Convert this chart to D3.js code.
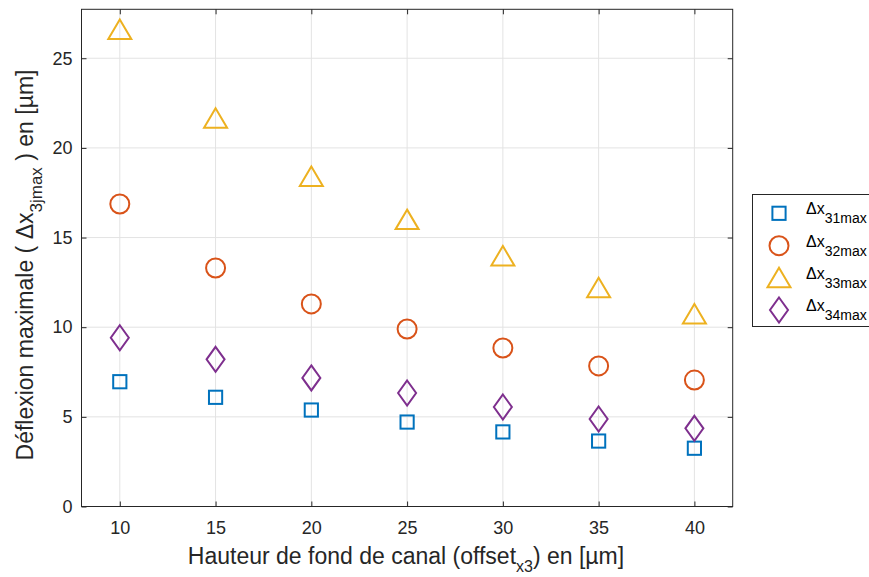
<!DOCTYPE html>
<html><head><meta charset="utf-8">
<script src="https://cdn.jsdelivr.net/npm/d3@7/dist/d3.min.js"></script>
<style>body{margin:0;background:#fff;} text{font-family:"Liberation Sans",Arial,sans-serif;}</style>
</head><body>
<svg id="c" width="869" height="577"></svg>
<script>
const offsets = [10, 15, 20, 25, 30, 35, 40];
const dx31 = [6.96, 6.09, 5.38, 4.71, 4.16, 3.65, 3.25];
const dx32 = [16.87, 13.3, 11.3, 9.9, 8.84, 7.84, 7.05];
const dx33 = [26.6, 21.65, 18.4, 16.0, 13.97, 12.2, 10.74];
const dx34 = [9.41, 8.21, 7.17, 6.33, 5.55, 4.88, 4.36];
const xTicks = [10, 15, 20, 25, 30, 35, 40];
const yTicks = [0, 5, 10, 15, 20, 25];
const seriesNames = ["31max", "32max", "33max", "34max"];
const seriesColors = ["#0072BD", "#D95319", "#EDB120", "#7E2F8E"];
const seriesShapes = ["square", "circle", "triangle", "diamond"];

const svg = d3.select("#c");
const L = 81.5, R = 732.7, T = 9.3, B = 506.5;
const x = d3.scaleLinear().domain([8, 42]).range([L, R]);
const y = d3.scaleLinear().domain([0, 27.73]).range([B, T]);

// grid
const g = svg.append("g");
g.selectAll(".gx").data(xTicks).enter().append("line")
  .attr("x1", d => x(d)).attr("x2", d => x(d)).attr("y1", T).attr("y2", B)
  .attr("stroke", "#e3e3e3").attr("stroke-width", 1);
g.selectAll(".gy").data(yTicks).enter().append("line")
  .attr("y1", d => y(d)).attr("y2", d => y(d)).attr("x1", L).attr("x2", R)
  .attr("stroke", "#e3e3e3").attr("stroke-width", 1);

// axes
const ax = svg.append("g").attr("transform", `translate(0,${B})`)
  .call(d3.axisBottom(x).tickValues(xTicks).tickSizeInner(-5).tickSizeOuter(0).tickPadding(15));
const axT = svg.append("g").attr("transform", `translate(0,${T})`)
  .call(d3.axisTop(x).tickValues(xTicks).tickSizeInner(-5).tickSizeOuter(0).tickFormat(""));
const ay = svg.append("g").attr("transform", `translate(${L},0)`)
  .call(d3.axisLeft(y).tickValues(yTicks).tickSizeInner(-5).tickSizeOuter(0).tickPadding(9));
const ayR = svg.append("g").attr("transform", `translate(${R},0)`)
  .call(d3.axisRight(y).tickValues(yTicks).tickSizeInner(-5).tickSizeOuter(0).tickFormat(""));
[ax, axT, ay, ayR].forEach(a => {
  a.select(".domain").remove();
  a.selectAll("line").attr("stroke", "#262626");
  a.selectAll("text").attr("fill", "#262626").style("font-size", "18px");
});
svg.append("rect").attr("x", L).attr("y", T).attr("width", R - L).attr("height", B - T)
  .attr("fill", "none").attr("stroke", "#262626").attr("stroke-width", 1);

function drawMarker(sel, shape, cx, cy, color) {
  let p;
  if (shape === "square") {
    p = sel.append("rect").attr("x", cx - 6.6).attr("y", cy - 6.6).attr("width", 13.2).attr("height", 13.2);
  } else if (shape === "circle") {
    p = sel.append("circle").attr("cx", cx).attr("cy", cy).attr("r", 9.5);
  } else if (shape === "triangle") {
    p = sel.append("path").attr("d", `M${cx},${cy - 10}L${cx + 11.5},${cy + 9.5}L${cx - 11.5},${cy + 9.5}Z`);
  } else {
    p = sel.append("path").attr("d", `M${cx},${cy - 12.5}L${cx + 9},${cy}L${cx},${cy + 12.5}L${cx - 9},${cy}Z`);
  }
  p.attr("fill", "none").attr("stroke", color).attr("stroke-width", 2);
}

const allSeries = [dx31, dx32, dx33, dx34];
allSeries.forEach((vals, i) => {
  const sg = svg.append("g");
  vals.forEach((v, j) => drawMarker(sg, seriesShapes[i], x(offsets[j]), y(v), seriesColors[i]));
});

// legend
const lg = svg.append("g");
lg.append("rect").attr("x", 752.5).attr("y", 194.5).attr("width", 130).attr("height", 132)
  .attr("fill", "#fff").attr("stroke", "#262626").attr("stroke-width", 1);
const legY = [213.3, 245.7, 277.7, 310];
seriesNames.forEach((n, i) => {
  drawMarker(lg, seriesShapes[i], 779, legY[i], seriesColors[i]);
  const t = lg.append("text").attr("x", 806).attr("y", legY[i] + 1).attr("fill", "#000").style("font-size", "16px");
  t.append("tspan").text("Δx");
  t.append("tspan").attr("dy", 9).style("font-size", "14px").text(n);
});

// axis labels
const xl = svg.append("text").attr("x", 406).attr("y", 564).attr("text-anchor", "middle")
  .attr("fill", "#262626").style("font-size", "23px");
xl.append("tspan").text("Hauteur de fond de canal (offset");
xl.append("tspan").attr("dy", 8).style("font-size", "16px").text("x3");
xl.append("tspan").attr("dy", -8).text(") en [µm]");

const yl = svg.append("text").attr("transform", `translate(33,265) rotate(-90)`).attr("text-anchor", "middle")
  .attr("fill", "#262626").style("font-size", "23px");
yl.append("tspan").text("Déflexion maximale ( Δx");
yl.append("tspan").attr("dy", 9).style("font-size", "17px").text("3jmax");
yl.append("tspan").attr("dy", -9).text(" ) en [µm]");
</script>
</body></html>
